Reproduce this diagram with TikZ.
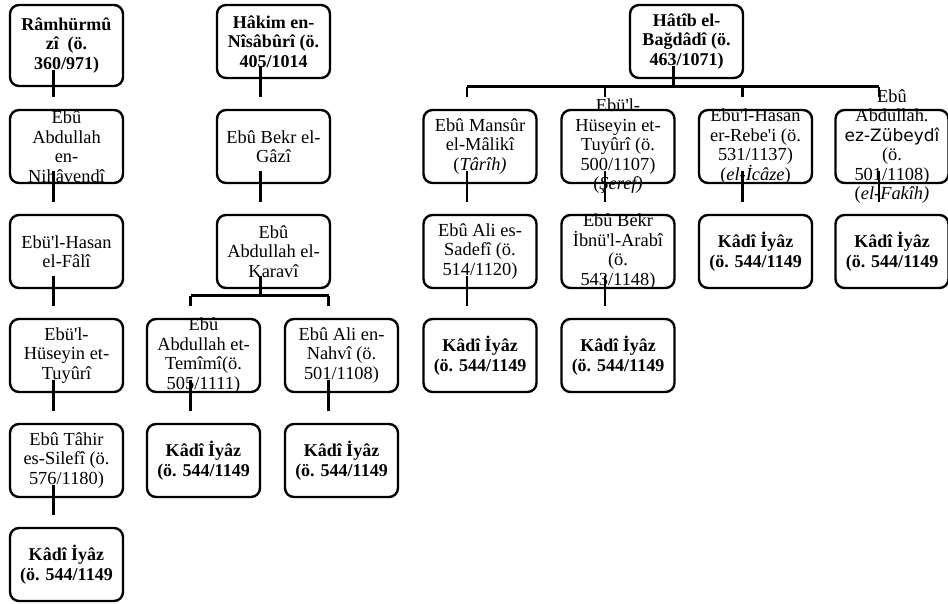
\documentclass[tikz,border=0pt]{standalone}
\usepackage{fontspec}
\setmainfont{Liberation Serif}
\newfontfamily\dejasans{DejaVu Sans}
\usetikzlibrary{calc}
\newcommand\qs{\textquotesingle}
\newcommand\conn[2]{\draw[con] ($(#1.center)+(-13,24)$) -- ($(#2.north)+(-13,-12)$);}
\newcommand\dropto[1]{\draw[con] ($(#1.north)+(-13,-22)$) -- ($(#1.north)+(-13,-12)$);}
\begin{document}
\begin{tikzpicture}[x=1pt,y=-1pt,
 box/.style={draw, rounded corners=9pt, line width=2.4pt, minimum width=113pt, minimum height=73pt, inner sep=0pt},
 tall/.style={minimum height=81pt},
 lbl/.style={align=center, font=\fontsize{18.4}{19.5}\selectfont, inner sep=0pt},
 blbl/.style={align=center, font=\fontsize{18}{19.5}\selectfont\bfseries, inner sep=0pt},
 con/.style={line width=2.8pt},
]
\useasboundingbox (0,0) rectangle (948,603);

% column 1
\node[box,tall] (a1) at (66.5,45.5) {};
\node[blbl] (a1t) at (a1) {Râmhürmû\\zî\ \ (ö.\\360/971)};
\node[box] (a2) at (66.5,146.5) {};
\node[lbl] (a2t) at (a2) {Ebû\\Abdullah\\en-\\Nihâvendî};
\node[box] (a3) at (66.5,251.5) {};
\node[lbl] (a3t) at (a3) {Ebü\qs l-Hasan\\el-Fâlî};
\node[box] (a4) at (66.5,355.5) {};
\node[lbl] (a4t) at (a4) {Ebü\qs l-\\Hüseyin et-\\Tuyûrî};
\node[box] (a5) at (66.5,460.5) {};
\node[lbl] (a5t) at (a5) {Ebû Tâhir\\es-Silefî (ö.\\576/1180)};
\node[box] (a6) at (66.5,564.5) {};
\node[blbl] (a6t) at (a6) {Kâdî İyâz\\(ö. 544/1149};

% column 2
\node[box] (b1) at (273.5,41.5) {};
\node[blbl] (b1t) at (b1) {Hâkim en-\\Nîsâbûrî (ö.\\405/1014};
\node[box] (b2) at (273.5,146.5) {};
\node[lbl] (b2t) at (b2) {Ebû Bekr el-\\Gâzî};
\node[box] (b3) at (273.5,251.5) {};
\node[lbl] (b3t) at (b3) {Ebû\\Abdullah el-\\Karavî};
\node[box] (b4) at (203.5,355.5) {};
\node[lbl] (b4t) at (b4) {Ebû\\Abdullah et-\\Temîmî(ö.\\505/1111)};
\node[box] (b5) at (341.5,355.5) {};
\node[lbl] (b5t) at (b5) {Ebû Ali en-\\Nahvî (ö.\\501/1108)};
\node[box] (b6) at (203.5,460.5) {};
\node[blbl] (b6t) at (b6) {Kâdî İyâz\\(ö. 544/1149};
\node[box] (b7) at (341.5,460.5) {};
\node[blbl] (b7t) at (b7) {Kâdî İyâz\\(ö. 544/1149};

% column 3
\node[box] (h) at (686.5,41.5) {};
\node[blbl] (ht) at (h) {Hâtîb el-\\Bağdâdî (ö.\\463/1071)};
\node[box] (c1) at (480,146.5) {};
\node[lbl] (c1t) at (c1) {Ebû Mansûr\\el-Mâlikî\\(\textit{Târîh)}};
\node[box] (c2) at (618,146.5) {};
\node[lbl] (c2t) at (c2) {Ebü\qs l-\\Hüseyin et-\\Tuyûrî (ö.\\500/1107)\\(\textit{Şeref)}};
\node[box] (c3) at (755.5,146.5) {};
\node[lbl] (c3t) at (c3) {Ebü\qs l-Hasan\\er-Rebe\qs i (ö.\\531/1137)\\(\textit{el-İcâze})};
\node[box] (c4) at (892,146.5) {};
\node[lbl] (c4t) at (c4) {Ebû\\Abdullāh.\\{\dejasans\fontsize{17}{19.5}\selectfont ez-Zübeydî}\\(ö.\\501/1108)\\(\textit{el-Fakîh)}};
\node[box] (d1) at (480,251.5) {};
\node[lbl] (d1t) at (d1) {Ebû Ali es-\\Sadefî (ö.\\514/1120)};
\node[box] (d2) at (618,251.5) {};
\node[lbl] (d2t) at (d2) {Ebû Bekr\\İbnü\qs l-Arabî\\(ö.\\543/1148)};
\node[box] (d3) at (755.5,251.5) {};
\node[blbl] (d3t) at (d3) {Kâdî İyâz\\(ö. 544/1149};
\node[box] (d4) at (892,251.5) {};
\node[blbl] (d4t) at (d4) {Kâdî İyâz\\(ö. 544/1149};
\node[box] (e1) at (480,355.5) {};
\node[blbl] (e1t) at (e1) {Kâdî İyâz\\(ö. 544/1149};
\node[box] (e2) at (618,355.5) {};
\node[blbl] (e2t) at (e2) {Kâdî İyâz\\(ö. 544/1149};

% connectors column 1
\conn{a1}{a2}
\conn{a2}{a3}
\conn{a3}{a4}
\conn{a4}{a5}
\conn{a5}{a6}
% column 2
\conn{b1}{b2}
\conn{b2}{b3}
\draw[con] ($(b3.center)+(-13,24)$) |- ($(b4.north)+(-13,-22)$);
\draw[con] ($(b4.north)+(-13,-22)$) -- ($(b5.north)+(-13,-22)$);
\dropto{b4}
\dropto{b5}
\conn{b4}{b6}
\conn{b5}{b7}
% column 3
\draw[con] ($(h.center)+(-13,24)$) |- ($(c1.north)+(-13,-22)$);
\draw[con] ($(c1.north)+(-13,-22)$) -- ($(c4.north)+(-13,-22)$);
\dropto{c1}
\dropto{c2}
\dropto{c3}
\dropto{c4}
\conn{c1}{d1}
\conn{c2}{d2}
\conn{c3}{d3}
\conn{c4}{d4}
\conn{d1}{e1}
\conn{d2}{e2}
\end{tikzpicture}
\end{document}
